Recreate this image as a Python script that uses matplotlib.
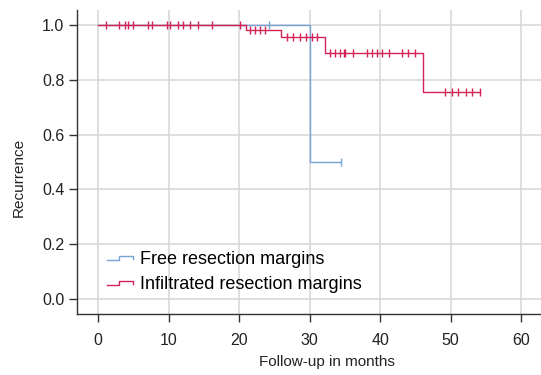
import numpy as np
import matplotlib
matplotlib.use("Agg")
import matplotlib.pyplot as plt
from matplotlib.legend_handler import HandlerBase
from matplotlib.lines import Line2D

plt.rcParams['font.family'] = ['Liberation Sans', 'DejaVu Sans']

# Kaplan-Meier step data (months, survival)
free_t = [0, 30.1, 34.5]
free_s = [1.0, 0.5, 0.5]
free_cens_t = [24.2, 34.5]
free_cens_s = [1.0, 0.5]

infl_t = [0, 20.9, 26.0, 32.1, 46.1, 54.2]
infl_s = [1.0, 0.982, 0.955, 0.897, 0.757, 0.757]
infl_cens_t = [1.1, 3.0, 3.8, 4.2, 5.0, 7.1, 7.6, 9.7, 10.2, 11.3, 12.1, 13.0, 14.1, 16.2, 20.1,
               21.5, 22.2, 22.9, 23.6,
               26.8, 27.7, 28.6, 29.5, 30.3, 31.1,
               32.9, 33.6, 34.3, 34.8, 35.0, 36.2, 38.1, 38.8, 39.5, 40.2, 41.2, 43.1, 44.0, 45.0,
               49.2, 50.2, 51.1, 52.1, 53.0, 54.2]


def surv_at(times, surv, t):
    idx = np.searchsorted(times, t, side='right') - 1
    return surv[idx]


infl_cens_s = [surv_at(infl_t, infl_s, t) for t in infl_cens_t]

blue = '#78a3d6'
red = '#d42257'
grid_c = '#d9d9d9'
axis_c = '#333333'


class StepHandler(HandlerBase):
    def create_artists(self, legend, orig_handle, xdescent, ydescent,
                       width, height, fontsize, trans):
        x0, x1 = -xdescent, -xdescent + width
        y_lo = -ydescent + height * 0.3
        y_hi = -ydescent + height * 0.65
        xs = [x0, x0 + width * 0.45, x0 + width * 0.45, x1, x1]
        ys = [y_lo, y_lo, y_hi, y_hi, y_lo + height * 0.1]
        ln = Line2D(xs, ys, color=orig_handle.get_color(), lw=1.0, transform=trans)
        return [ln]


fig = plt.figure(figsize=(5.41, 3.75), dpi=100)
ax = fig.add_axes([0.1423, 0.1627, 0.8577, 0.8106])

ax.step(free_t, free_s, where='post', color=blue, lw=1.0, zorder=2)
ax.plot(free_cens_t, free_cens_s, ls='none', marker='|', ms=6, mew=1.0, color=blue, zorder=2)
ax.step(infl_t, infl_s, where='post', color=red, lw=1.0, zorder=3)
ax.plot(infl_cens_t, infl_cens_s, ls='none', marker='|', ms=6, mew=1.0, color=red, zorder=3)

ax.set_xlim(-3, 62.8)
ax.set_ylim(-0.055, 1.055)
ax.set_xticks([0, 10, 20, 30, 40, 50, 60])
ax.set_yticks([0.0, 0.2, 0.4, 0.6, 0.8, 1.0])
ax.set_yticklabels(['0.0', '0.2', '0.4', '0.6', '0.8', '1.0'])
ax.grid(True, color=grid_c, lw=1.2)
ax.set_axisbelow(True)

for s in ['top', 'right']:
    ax.spines[s].set_visible(False)
for s in ['left', 'bottom']:
    ax.spines[s].set_color(axis_c)
    ax.spines[s].set_linewidth(1.0)
ax.tick_params(colors=axis_c, labelcolor='#222222', labelsize=11.5, length=6, width=1.0)
ax.tick_params(axis='x', pad=8)
ax.tick_params(axis='y', pad=3)

ax.set_xlabel('Follow-up in months', fontsize=11, color='#222222')
ax.xaxis.set_label_coords(0.539, -0.135)
ax.set_ylabel('Recurrence', fontsize=11, color='#222222')
ax.yaxis.set_label_coords(-0.11, 0.45)

h1 = Line2D([], [], color=blue)
h2 = Line2D([], [], color=red)
ax.legend([h1, h2], ['Free resection margins', 'Infiltrated resection margins'],
          handler_map={Line2D: StepHandler()}, loc='lower left',
          bbox_to_anchor=(0.03, 0.015), frameon=False, fontsize=13,
          handlelength=1.45, handletextpad=0.35, labelspacing=0.45)

fig.savefig('out.png', dpi=100)
